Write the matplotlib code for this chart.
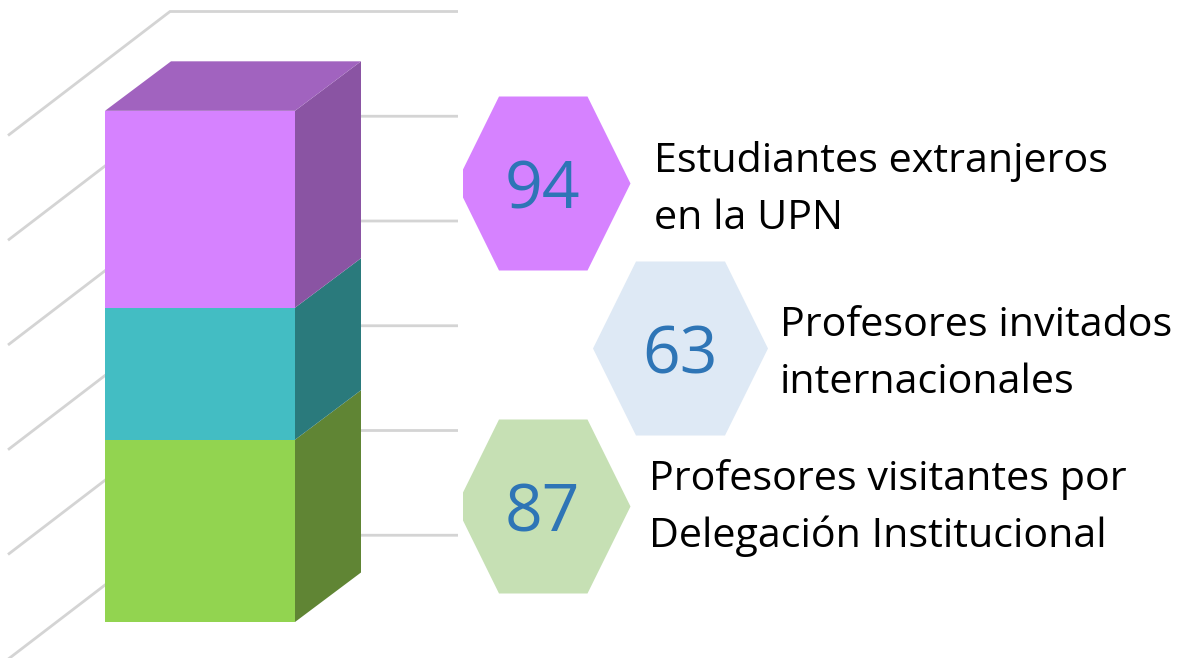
import numpy as np
import matplotlib
matplotlib.use("Agg")
import matplotlib.pyplot as plt
from matplotlib.patches import Polygon

plt.rcParams['font.family'] = ['Open Sans', 'DejaVu Sans']

# bottom to top, as stacked in the column
values = [87, 63, 94]
front_colors = ['#92D450', '#43BDC3', '#D682FF']
side_colors = ['#608534', '#2A7A7C', '#8A54A3']
top_color = '#A163BF'
grid_values = [50, 100, 150, 200, 250, 300]

numbers = ['87', '63', '94']
hex_colors = ['#C6E0B4', '#DEE9F5', '#D682FF']
number_color = '#2E75B6'
labels = [['Profesores visitantes por', 'Delegación Institucional'],
          ['Profesores invitados', 'internacionales'],
          ['Estudiantes extranjeros', 'en la UPN']]

W, H = 1178, 658
PX = 2.095  # pixels per unit of value
BASE = 622  # pixel row of value 0 on the front face
dx, dy = 66, 49.5 / PX  # depth of the column
grid_off = -18 / PX
grid_dy = 124 / PX

fig = plt.figure(figsize=(W / 100, H / 100), dpi=100)
ax = fig.add_axes([0, 0, 1, 1])
ax.set_xlim(0, W)
ax.set_ylim((BASE - H) / PX, BASE / PX)
ax.axis('off')

# walls
for v in grid_values:
    y = v + grid_off
    ax.plot([8, 170, 458], [y - grid_dy, y, y], color='#D4D4D4', lw=2, zorder=1,
            solid_joinstyle='miter', solid_capstyle='butt')

# column
x0, x1 = 105, 295
tops = np.cumsum(values)
bottoms = tops - np.array(values)
for b, t, fc, sc in zip(bottoms, tops, front_colors, side_colors):
    ax.add_patch(Polygon([(x1, b), (x1 + dx, b + dy), (x1 + dx, t + dy), (x1, t)],
                         fc=sc, ec='none', zorder=2))
    ax.add_patch(Polygon([(x0, b), (x1, b), (x1, t), (x0, t)],
                         fc=fc, ec='none', zorder=3))
t = tops[-1]
ax.add_patch(Polygon([(x0, t), (x1, t), (x1 + dx, t + dy), (x0 + dx, t + dy)],
                     fc=top_color, ec='none', zorder=2))

# hexagons and texts, in pixels
ov = fig.add_axes([0, 0, 1, 1])
ov.set_xlim(0, W)
ov.set_ylim(H, 0)
ov.axis('off')

hex_cy = [506.5, 348.5, 183.5]
hex_left = [463, 593, 463]
hex_tip = [630.5, 768, 630.5]
text_x = [649, 780, 654]
text_y = [[479, 536], [326, 383], [162, 219]]

for i in range(3):
    cy, l, r = hex_cy[i], hex_left[i], hex_tip[i]
    if i == 1:
        pts = [(l, cy), (l + 43, cy - 87), (r - 43, cy - 87), (r, cy),
               (r - 43, cy + 87), (l + 43, cy + 87)]
    else:
        pts = [(l, cy - 14), (l + 36, cy - 87), (r - 43, cy - 87), (r, cy),
               (r - 43, cy + 87), (l + 36, cy + 87), (l, cy + 14)]
    ov.add_patch(Polygon(pts, fc=hex_colors[i], ec='none'))
    ov.text((l + r) / 2 - (0 if i == 1 else 4), cy + 8, numbers[i], color=number_color,
            fontsize=47.5, ha='center', va='center')
    for line, y in zip(labels[i], text_y[i]):
        ov.text(text_x[i], y, line, color='black', fontsize=29.7, ha='left', va='center')

fig.savefig('out.png', dpi=100)
